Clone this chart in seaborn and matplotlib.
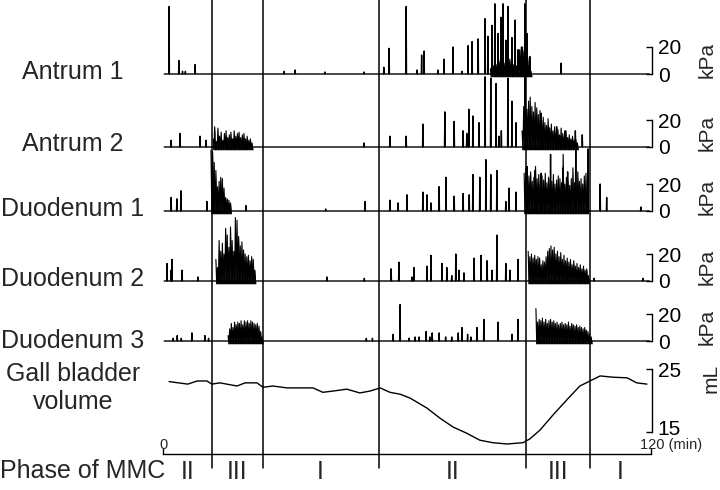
import numpy as np
import pandas as pd
import matplotlib
matplotlib.use("Agg")
import matplotlib.pyplot as plt
import matplotlib.transforms as mtransforms
import seaborn as sns

# phases of the migrating motor complex (min)
phase_bounds = [0, 12.0, 24.5, 53.0, 89.3, 105.0, 120]
phase_names = ["II", "III", "I", "II", "III", "I"]

channel_names = ["Antrum 1", "Antrum 2", "Duodenum 1", "Duodenum 2", "Duodenum 3"]

# isolated contractions: time (min) and amplitude (kPa)
antrum1_t = [1.5, 3.9, 4.8, 5.5, 7.9, 29.8, 32.5, 39.8, 49.4, 54.3, 55.6, 59.8, 62.5,
             63.6, 64.2, 67.6, 69.1, 71.3, 73.5, 75.0, 76.0, 77.5, 79.2, 79.9, 80.9,
             81.6, 82.4, 83.1, 83.6, 84.3, 84.8, 85.8, 86.6, 87.3, 88.3, 89.0, 89.5,
             90.2, 97.9]
antrum1_amp = [50, 10, 2, 2, 7, 2, 3, 1.5, 1.5, 5, 19, 50, 3,
               14, 17, 3, 11, 20, 2, 21, 24, 26, 41, 28, 36,
               52, 30, 42, 52, 25, 50, 27, 40, 18, 20, 52, 30,
               13, 8]

antrum2_t = [2.0, 4.2, 9.1, 10.6, 49.4, 55.8, 59.8, 63.9, 69.3, 71.6, 73.8, 74.7, 75.2,
             76.2, 77.7, 79.2, 80.6, 81.9, 82.6, 83.2, 84.8, 85.8, 86.8, 89.0, 93.0,
             94.8, 96.8, 98.9, 101.4, 103.1]
antrum2_amp = [5, 10, 8, 5, 3, 8, 8, 17, 26, 19, 12, 10, 28,
               23, 18, 52, 51, 47, 8, 12, 51, 34, 18, 54, 25,
               15, 15, 12, 12, 9]

duod1_t = [2.0, 3.4, 4.4, 10.8, 20.4, 40.0, 49.7, 55.8, 57.8, 60.0, 63.9, 64.9, 65.9,
           67.9, 69.6, 71.6, 73.8, 75.3, 76.2, 77.9, 79.4, 80.6, 82.1, 84.3, 85.1,
           86.8, 89.5, 91.5, 93.0, 95.3, 98.4, 99.5, 101.5, 104.5, 107.5, 109.1, 117.5]
duod1_amp = [10, 9, 15, 7, 4, 1.5, 7, 8, 6, 12, 14, 12, 6,
             18, 25, 11, 13, 12, 27, 25, 38, 27, 30, 7, 17,
             14, 33, 30, 28, 42, 32, 29, 45, 46, 20, 10, 3]

duod2_t = [1.0, 2.0, 2.2, 4.7, 8.6, 40.3, 49.5, 56.1, 58.0, 61.2, 61.7, 64.9, 65.9,
           68.6, 69.8, 71.0, 72.0, 72.8, 74.0, 76.5, 78.2, 79.7, 80.9, 82.1, 84.3,
           85.3, 87.3, 106.0, 118.0]
duod2_amp = [13, 8, 16, 8, 3, 3, 2, 9, 14, 3, 10, 11, 19,
             13, 10, 4, 20, 8, 6, 17, 19, 15, 8, 34, 13,
             8, 16, 2, 2]

duod3_t = [2.5, 3.5, 4.5, 7.1, 10.3, 11.2, 50.0, 51.5, 56.6, 58.3, 60.5, 62.0, 63.0,
           64.7, 65.6, 66.2, 67.9, 69.5, 71.0, 72.6, 73.5, 74.9, 75.7, 77.2, 78.9,
           82.4, 85.8, 87.3]
duod3_amp = [2, 4, 2, 6, 4, 2, 2, 2, 5, 27, 2, 3, 3,
             7, 3, 6, 6, 3, 3, 6, 10, 5, 3, 10, 16,
             14, 5, 16]

# phase III bursts: start (min) and peak amplitude every 0.4 min (kPa)
antrum1_bursts = [
    (80.5, [4, 8, 6, 10, 7, 12, 9, 14, 10, 8, 13, 16, 11, 9, 7, 10, 6, 14, 18, 20,
            17, 22, 15, 12, 6, 2]),
]
antrum2_bursts = [
    (12.3, [6, 15, 4, 14, 8, 11, 5, 10, 12, 7, 9, 11, 6, 12, 8, 10, 11, 7, 9, 10,
            6, 8, 5, 6, 3]),
    (88.3, [12, 30, 36, 28, 34, 37, 30, 26, 33, 29, 24, 27, 20, 22, 18, 16, 21, 14,
            17, 12, 15, 11, 13, 9, 14, 10, 8, 12, 7, 9, 6, 8, 5, 6, 3]),
]
duod1_bursts = [
    (11.8, [45, 44, 36, 30, 18, 22, 25, 24, 17, 10, 9, 8, 6]),
    (88.8, [28, 32, 30, 26, 29, 22, 25, 33, 24, 27, 20, 26, 23, 28, 21, 25, 24, 22,
            27, 20, 23, 26, 24, 21, 42, 20, 25, 22, 19, 24, 32, 21, 18, 29, 22, 24,
            20, 26, 28, 15]),
]
duod2_bursts = [
    (13.0, [16, 10, 30, 22, 28, 20, 39, 34, 25, 40, 30, 22, 47, 45, 33, 26, 29, 23,
            20, 18, 19, 15, 18, 16, 8]),
    (89.8, [22, 18, 20, 17, 19, 16, 18, 17, 12, 15, 14, 18, 22, 24, 26, 23, 25, 20,
            22, 18, 21, 16, 19, 15, 17, 14, 16, 12, 15, 11, 13, 10, 12, 9, 11, 8, 9, 4]),
]
duod3_bursts = [
    (16.0, [4, 9, 13, 10, 14, 12, 14, 13, 15, 12, 15, 14, 15, 13, 15, 14, 13, 12, 13,
            11, 7, 3]),
    (91.7, [24, 14, 16, 15, 17, 14, 16, 13, 15, 16, 14, 15, 13, 14, 12, 13, 14, 12,
            13, 12, 14, 11, 13, 12, 11, 12, 10, 11, 10, 9, 10, 8, 7, 5, 3]),
]

# gall bladder volume (mL)
gb_t = [1.5, 6.1, 8.4, 10.8, 12.0, 14.0, 18.2, 20.2, 23.1, 24.6, 27.0, 30.5, 33.7,
        36.9, 39.3, 41.8, 45.2, 48.4, 50.9, 53.4, 55.8, 58.3, 60.7, 61.5, 64.9,
        68.1, 71.3, 74.7, 77.9, 81.1, 84.6, 88.5, 90.2, 92.7, 95.9, 99.3, 102.5,
        105.0, 107.5, 110.6, 114.1, 116.5, 119.0]
gb_ml = [23.0, 22.6, 23.1, 23.1, 22.6, 22.8, 22.3, 22.8, 22.8, 22.1, 22.3, 22.0, 22.0,
         22.0, 21.3, 21.5, 21.8, 21.2, 21.5, 22.0, 21.3, 21.0, 20.4, 20.1, 18.8,
         17.2, 15.8, 14.8, 13.7, 13.3, 13.1, 13.3, 13.9, 15.3, 17.7, 20.1, 22.3,
         23.1, 23.9, 23.7, 23.6, 22.8, 22.6]

channel_spikes = [(antrum1_t, antrum1_amp), (antrum2_t, antrum2_amp), (duod1_t, duod1_amp),
                  (duod2_t, duod2_amp), (duod3_t, duod3_amp)]
channel_bursts = [antrum1_bursts, antrum2_bursts, duod1_bursts, duod2_bursts, duod3_bursts]

# layout (pixels)
W, H = 720, 490
X0, X120 = 163, 651
baselines = [74, 147, 211, 281, 341]
label_y = [72, 144, 209, 279, 341]
KPA_PX = 1.35
ML_PX = 6.3
AXIS_Y = 454

sns.set_theme(style="white")
plt.rcParams["font.family"] = ["Liberation Sans", "DejaVu Sans"]
plt.rcParams["axes.grid"] = False

fig = plt.figure(figsize=(W / 100, H / 100), dpi=100)
px_min = (X120 - X0) / 120
xlim = (-X0 / px_min, (W - X0) / px_min)


def band(zero_px, lo, hi, ppu):
    bottom = zero_px - lo * ppu
    ax = fig.add_axes([0, 1 - bottom / H, 1, (hi - lo) * ppu / H])
    ax.set_xlim(xlim)
    ax.set_ylim(lo, hi)
    ax.patch.set_visible(False)
    for s in ["left", "top", "bottom"]:
        ax.spines[s].set_visible(False)
    ax.spines["right"].set_position(("data", 120.3))
    ax.spines["right"].set_color("black")
    ax.spines["right"].set_linewidth(1.0)
    ax.set_xticks([])
    ax.yaxis.tick_right()
    ax.tick_params(axis="y", direction="in", length=4, width=1.0, pad=4,
                   labelsize=15, colors="black", right=True)
    return ax


def spike_frame(t, amp):
    xs, ys = [0.3], [0.0]
    for ti, ai in sorted(zip(t, amp)):
        xs += [ti - 0.08, ti, ti + 0.08]
        ys += [0.0, ai, 0.0]
    xs.append(119.6)
    ys.append(0.0)
    return pd.DataFrame({"t": xs, "p": ys})


def burst_frame(start, amps, step=0.4):
    xs, ys = [], []
    for i, a in enumerate(amps):
        xs += [start + i * step, start + i * step + step / 2]
        ys += [a, -2.0]
    return pd.DataFrame({"t": xs, "p": ys})


for k, name in enumerate(channel_names):
    ax = band(baselines[k], -5, 57, KPA_PX)
    t, amp = channel_spikes[k]
    sns.lineplot(data=spike_frame(t, amp), x="t", y="p", sort=False, estimator=None,
                 color="black", lw=1.0, ax=ax)
    for start, amps in channel_bursts[k]:
        bf = burst_frame(start, amps)
        ax.fill_between(bf["t"], bf["p"], -2.0, color="black", lw=0)
        sns.lineplot(data=bf, x="t", y="p", sort=False, estimator=None,
                     color="black", lw=0.8, ax=ax)
    ax.set_yticks([0, 20])
    ax.set_yticklabels(["0", "20"])
    ax.spines["right"].set_bounds(0, 20)
    ax.set_xlabel("")
    ax.set_ylabel("")
    fig.text(707 / W, 1 - (baselines[k] - 14) / H, "kPa", rotation=90,
             ha="center", va="center", fontsize=15)
    fig.text(73 / W, 1 - label_y[k] / H, name, ha="center", va="center", fontsize=18)

# gall bladder volume, its bottom spine is the time axis
gb_zero = 369 + 25 * ML_PX
gb_lo = 25 - (AXIS_Y - 369) / ML_PX
gall = band(gb_zero, gb_lo, 27, ML_PX)
sns.lineplot(x=gb_t, y=gb_ml, sort=False, estimator=None, color="black", lw=1.0, ax=gall)
gall.set_yticks([15, 25])
gall.set_yticklabels(["15", "25"])
gall.spines["right"].set_bounds(15, 25)
gall.set_ylabel("")
# lift the lower scale label a little so it clears the time label
lift = mtransforms.ScaledTranslation(0, 5 / 100, fig.dpi_scale_trans)
low_label = gall.get_yticklabels()[0]
low_label.set_transform(low_label.get_transform() + lift)
fig.text(711 / W, 1 - 378 / H, "mL", rotation=90, ha="center", va="center", fontsize=15)
gall.spines["bottom"].set_visible(True)
gall.spines["bottom"].set_color("black")
gall.spines["bottom"].set_linewidth(1.0)
gall.spines["bottom"].set_bounds(0, 120)
gall.set_xticks([0, 120])
gall.set_xticklabels([])
gall.tick_params(axis="x", direction="in", length=4, width=1.0, bottom=True, colors="black")
gall.text(0, gb_lo + 0.25, "0", ha="center", va="bottom", fontsize=10.5)
gall.text(117.4, gb_lo + 0.25, "120 (min)", ha="left", va="bottom", fontsize=10.5)
fig.text(73 / W, 1 - 388 / H, "Gall bladder\nvolume", ha="center", va="center",
         fontsize=18, linespacing=1.25)

# phase boundaries and labels
ov = fig.add_axes([0, 0, 1, 1])
ov.set_xlim(xlim)
ov.set_ylim(0, 1)
ov.axis("off")
for edge in phase_bounds[1:-1]:
    ov.axvline(edge, ymin=1 - 468 / H, ymax=1, color="black", lw=1.1)
for name, a, b in zip(phase_names, phase_bounds[:-1], phase_bounds[1:]):
    ov.text((a + b) / 2, 1 - 472 / H, name, ha="center", va="center", fontsize=18)
fig.text(0, 1 - 471 / H, "Phase of MMC", ha="left", va="center", fontsize=18)

fig.savefig("out.png", dpi=100, facecolor="white")
